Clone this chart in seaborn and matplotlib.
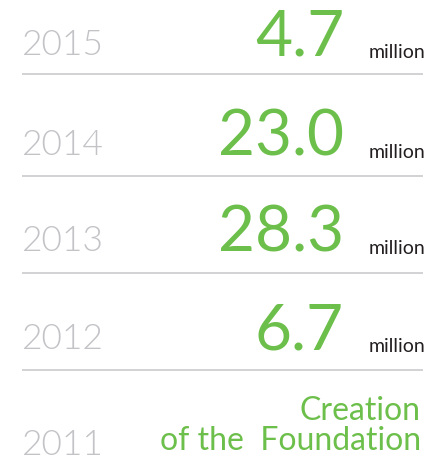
import matplotlib
matplotlib.use("Agg")
import matplotlib.pyplot as plt
import seaborn as sns

years = ["2015", "2014", "2013", "2012", "2011"]
values = [4.7, 23.0, 28.3, 6.7]
unit = "million"
founding_label = ["Creation", "of the  Foundation"]

sns.set_theme(style="white")
plt.rcParams["font.family"] = ["Lato", "DejaVu Sans"]

GREEN = "#6cbf4a"
GRAY = "#c3c3c7"
DARK = "#231f20"
LINE = "#cfcfd1"

W, H = 443, 455
fig = plt.figure(figsize=(W / 100, H / 100), dpi=100)
ax = fig.add_axes([0, 0, 1, 1])
ax.set_xlim(0, W)
ax.set_ylim(H, 0)
ax.axis("off")

baselines = [55, 155, 251, 349, 455]
separators = [74, 176, 273, 370]
year_x = 22
num_right = 344
unit_right = 425

for i, yr in enumerate(years):
    base = baselines[i]
    ax.text(year_x, base, yr, fontsize=25.5, color=GRAY, fontweight=300,
            ha="left", va="baseline")
    if i < len(values):
        ax.text(num_right, base + 1, f"{values[i]:.1f}", fontsize=46, color=GREEN,
                fontweight="normal", ha="right", va="baseline")
        ax.text(unit_right, base + 3, unit, fontsize=14, color=DARK,
                ha="right", va="baseline")
        ax.hlines(separators[i], 22, 423, color=LINE, lw=1.3)
    else:
        ax.text(421, 420, founding_label[0], fontsize=23, color=GREEN,
                fontweight="normal", ha="right", va="baseline")
        ax.text(421, 450, founding_label[1], fontsize=23, color=GREEN,
                fontweight="normal", ha="right", va="baseline")

fig.savefig("out.png", dpi=100)
